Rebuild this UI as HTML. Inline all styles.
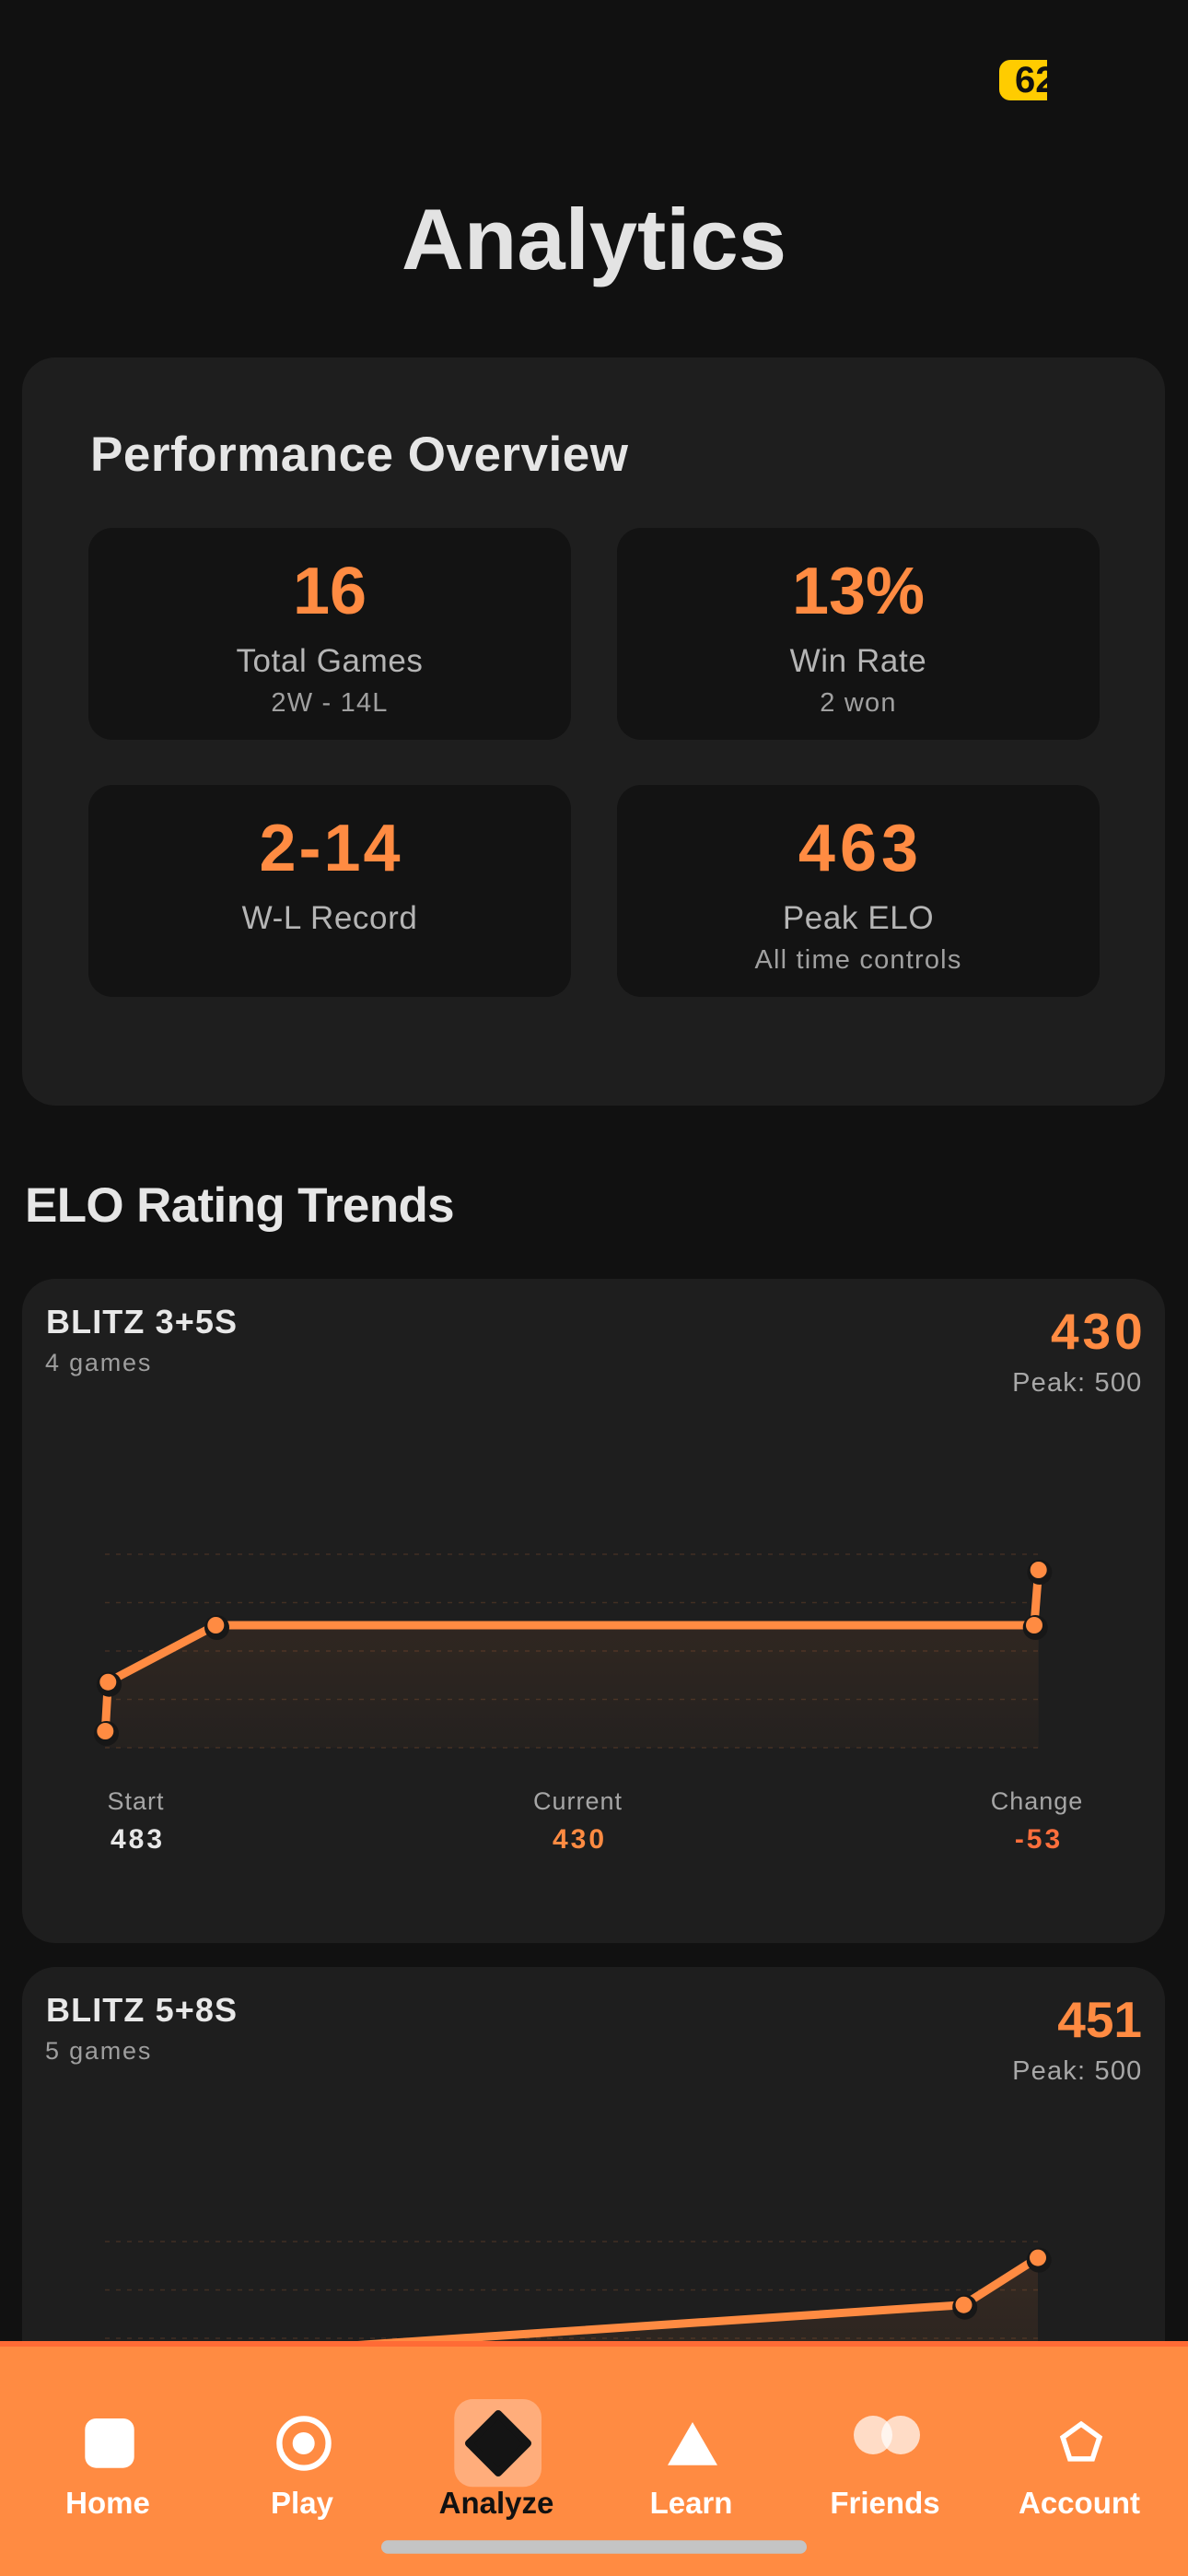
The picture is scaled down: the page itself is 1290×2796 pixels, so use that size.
<!DOCTYPE html>
<html>
<head>
<meta charset="utf-8">
<style>
html{margin:0;padding:0;width:1290px;height:2796px;overflow:hidden;background:#111111;}
body{margin:0;padding:0;width:1290px;height:2796px;background:#111111;position:relative;overflow:hidden;font-family:"Liberation Sans",sans-serif;}
.t{position:absolute;white-space:nowrap;line-height:1;}
.b{font-weight:bold;}
.card{position:absolute;background:#1e1e1e;border-radius:36px;}
.box{position:absolute;background:#131313;border-radius:26px;width:524px;height:230px;}
.box .t{left:0;width:524px;text-align:center;}
.v{font-size:72px;font-weight:bold;color:#FF8B42;top:33px;}
.l{font-size:35px;color:#b5b5b5;letter-spacing:0.6px;top:127px;}
.s{font-size:29px;color:#a0a0a0;letter-spacing:1.2px;top:176px;}
.nl{font-size:33px;font-weight:bold;color:#fff;top:2700px;width:200px;text-align:center;}
.cl{font-size:27px;color:#a6a6a6;letter-spacing:1px;width:400px;text-align:center;}
.cv{font-size:30px;font-weight:bold;letter-spacing:3px;width:400px;text-align:center;}
</style>
</head>
<body>

<!-- badge -->
<div style="position:absolute;left:1085px;top:65px;width:52px;height:44px;overflow:hidden;background:#FFCC00;border-radius:12px 0 0 12px;">
  <div style="position:absolute;left:17px;top:0;font-size:40px;line-height:44px;font-weight:bold;color:#111;white-space:nowrap;">62</div>
</div>

<div class="t b" style="left:0;width:1290px;text-align:center;top:213px;font-size:94px;color:#e3e3e3;">Analytics</div>

<!-- Performance card -->
<div class="card" style="left:24px;top:388px;width:1241px;height:812px;"></div>
<div class="t b" style="left:98px;top:467px;font-size:53px;color:#e6e6e6;letter-spacing:0.5px;">Performance Overview</div>

<div class="box" style="left:96px;top:573px;">
  <div class="t v">16</div>
  <div class="t l">Total Games</div>
  <div class="t s">2W - 14L</div>
</div>
<div class="box" style="left:670px;top:573px;">
  <div class="t v">13%</div>
  <div class="t l">Win Rate</div>
  <div class="t s">2 won</div>
</div>
<div class="box" style="left:96px;top:852px;">
  <div class="t v" style="letter-spacing:3px;padding-left:3px;box-sizing:border-box;">2-14</div>
  <div class="t l">W-L Record</div>
</div>
<div class="box" style="left:670px;top:852px;">
  <div class="t v" style="letter-spacing:5px;padding-left:5px;box-sizing:border-box;">463</div>
  <div class="t l">Peak ELO</div>
  <div class="t s">All time controls</div>
</div>

<div class="t b" style="left:27px;top:1282px;font-size:53px;color:#e6e6e6;letter-spacing:-0.65px;">ELO Rating Trends</div>

<!-- Card 2 -->
<div class="card" style="left:24px;top:1388px;width:1241px;height:721px;"></div>
<div class="t b" style="left:50px;top:1416.5px;font-size:36px;color:#e8e8e8;letter-spacing:1.1px;">BLITZ 3+5S</div>
<div class="t" style="left:49px;top:1466px;font-size:27px;color:#9e9e9e;letter-spacing:1.8px;">4 games</div>
<div class="t b" style="right:45.3px;top:1418.4px;font-size:55px;color:#FF8B42;letter-spacing:4px;">430</div>
<div class="t" style="right:49.5px;top:1487.2px;font-size:29px;color:#a8a8a8;letter-spacing:1.2px;">Peak: 500</div>

<div class="t cl" style="left:-53.5px;top:1942px;padding-left:1px;">Start</div>
<div class="t cl" style="left:426.5px;top:1942px;padding-left:1px;">Current</div>
<div class="t cl" style="left:925px;top:1942px;padding-left:1px;">Change</div>
<div class="t cv" style="left:-53.5px;top:1982px;color:#e8e8e8;padding-left:3px;">483</div>
<div class="t cv" style="left:426.5px;top:1982px;color:#FF8B42;padding-left:3px;">430</div>
<div class="t cv" style="left:925px;top:1982px;color:#FF6F3C;padding-left:3px;">-53</div>

<!-- Card 3 -->
<div class="card" style="left:24px;top:2135px;width:1241px;height:661px;border-radius:36px 36px 0 0;"></div>
<div class="t b" style="left:50px;top:2163.5px;font-size:36px;color:#e8e8e8;letter-spacing:1.1px;">BLITZ 5+8S</div>
<div class="t" style="left:49px;top:2213px;font-size:27px;color:#9e9e9e;letter-spacing:1.8px;">5 games</div>
<div class="t b" style="right:50px;top:2165.4px;font-size:55px;color:#FF8B42;">451</div>
<div class="t" style="right:49.5px;top:2234.2px;font-size:29px;color:#a8a8a8;letter-spacing:1.2px;">Peak: 500</div>

<!-- charts -->
<svg width="1290" height="2796" style="position:absolute;left:0;top:0;" xmlns="http://www.w3.org/2000/svg">
  <defs>
    <linearGradient id="g1" gradientUnits="userSpaceOnUse" x1="0" y1="1687" x2="0" y2="1897">
      <stop offset="0" stop-color="#FF8B42" stop-opacity="0.11"/>
      <stop offset="1" stop-color="#FF8B42" stop-opacity="0.03"/>
    </linearGradient>
    <linearGradient id="g2" gradientUnits="userSpaceOnUse" x1="0" y1="2433" x2="0" y2="2643">
      <stop offset="0" stop-color="#FF8B42" stop-opacity="0.11"/>
      <stop offset="1" stop-color="#FF8B42" stop-opacity="0.03"/>
    </linearGradient>
  </defs>
  <g stroke="#FF8B42" stroke-opacity="0.16" stroke-width="1.5" stroke-dasharray="5 7">
    <line x1="114" y1="1687" x2="1127" y2="1687"/>
    <line x1="114" y1="1739.5" x2="1127" y2="1739.5"/>
    <line x1="114" y1="1792" x2="1127" y2="1792"/>
    <line x1="114" y1="1844.5" x2="1127" y2="1844.5"/>
    <line x1="114" y1="1897" x2="1127" y2="1897"/>
    <line x1="114" y1="2433" x2="1127" y2="2433"/>
    <line x1="114" y1="2485.5" x2="1127" y2="2485.5"/>
    <line x1="114" y1="2538" x2="1127" y2="2538"/>
  </g>
  <polygon points="114.3,1879 117.3,1825.7 234.3,1764 1123,1764 1127.7,1704 1127.7,1897 114.3,1897" fill="url(#g1)"/>
  <polyline points="114.3,1879 117.3,1825.7 234.3,1764 1123,1764 1127.7,1704" fill="none" stroke="#FF8B42" stroke-width="9" stroke-linejoin="round" stroke-linecap="round"/>
  <g fill="#171717">
    <circle cx="115.5" cy="1881.5" r="13.5"/>
    <circle cx="118.5" cy="1828.2" r="13.5"/>
    <circle cx="235.5" cy="1766.5" r="13.5"/>
    <circle cx="1124.2" cy="1766.5" r="13.5"/>
    <circle cx="1128.9" cy="1706.5" r="13.5"/>
  </g>
  <g fill="#FF8B42">
    <circle cx="114.3" cy="1879" r="9"/>
    <circle cx="117.3" cy="1825.7" r="9"/>
    <circle cx="234.3" cy="1764" r="9"/>
    <circle cx="1123" cy="1764" r="9"/>
    <circle cx="1127.7" cy="1704" r="9"/>
  </g>

  <polygon points="114,2563.7 1046.5,2501.7 1127,2450.6 1127,2644 114,2644" fill="url(#g2)"/>
  <polyline points="114,2563.7 1046.5,2501.7 1127,2450.6" fill="none" stroke="#FF8B42" stroke-width="9" stroke-linejoin="round" stroke-linecap="round"/>
  <g fill="#171717">
    <circle cx="1047.7" cy="2504.2" r="13.5"/>
    <circle cx="1128.2" cy="2453.1" r="13.5"/>
  </g>
  <g fill="#FF8B42">
    <circle cx="1046.5" cy="2501.7" r="9"/>
    <circle cx="1127" cy="2450.6" r="9"/>
  </g>
</svg>

<!-- Nav bar -->
<div style="position:absolute;left:0;top:2541px;width:1290px;height:255px;background:#FF8B42;"></div>
<div style="position:absolute;left:0;top:2541px;width:1290px;height:6px;background:#FF6B35;"></div>

<svg width="1290" height="255" style="position:absolute;left:0;top:2541px;" xmlns="http://www.w3.org/2000/svg">
  <g transform="translate(0,-2541)">
    <rect x="92.3" y="2625" width="53.4" height="53.7" rx="12" fill="#fff"/>
    <circle cx="330" cy="2652" r="26.6" fill="none" stroke="#fff" stroke-width="6.3"/>
    <circle cx="329.7" cy="2652" r="12" fill="#fff"/>
    <rect x="493.3" y="2604" width="94.7" height="95.3" rx="20" fill="#FFAD7B"/>
    <polygon points="541,2620 573,2652 541,2684 509,2652" fill="#141414" stroke="#141414" stroke-width="8" stroke-linejoin="round"/>
    <polygon points="752,2629 779,2675.7 725,2675.7" fill="#fff"/>
    <circle cx="948" cy="2643" r="21" fill="#fff" fill-opacity="0.7"/>
    <circle cx="978" cy="2643" r="21" fill="#fff" fill-opacity="0.7"/>
    <polygon points="1174,2631.1 1193.9,2645.5 1186.3,2668.9 1161.7,2668.9 1154.1,2645.5" fill="none" stroke="#fff" stroke-width="5.5"/>
    <rect x="414" y="2757.3" width="462" height="14.4" rx="7.2" fill="#c4c4c4"/>
  </g>
</svg>

<div class="t nl" style="left:17px;">Home</div>
<div class="t nl" style="left:228px;">Play</div>
<div class="t nl" style="left:439px;color:#111;">Analyze</div>
<div class="t nl" style="left:650.5px;">Learn</div>
<div class="t nl" style="left:861px;">Friends</div>
<div class="t nl" style="left:1072px;">Account</div>

</body>
</html>
